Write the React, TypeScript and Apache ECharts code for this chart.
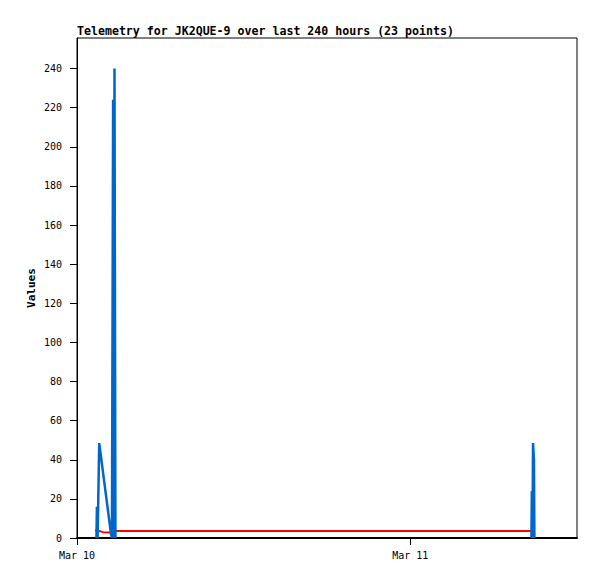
import React, { useEffect, useRef } from "react";
import * as echarts from "echarts";

// Telemetry samples (time "DD HH:MM" in March, value)
const blueTimes = [
  "10 01:24", "10 01:26", "10 01:29", "10 01:36", "10 02:27", "10 02:31",
  "10 02:36", "10 02:38", "10 02:42", "10 02:46", null,
  "11 08:43", "11 08:45", "11 08:48", "11 08:50", "11 08:54", "11 08:56",
];
const blueValues = [0, 16, 0, 48.5, 2, 0, 224, 0, 240, 0, null, 0, 24, 0, 48.5, 40, 0];

const redTimes = ["10 01:18", "10 01:39", "10 01:52", "10 02:23", "10 02:31", "11 08:43"];
const redValues = [4, 3.5, 3, 2.8, 3.6, 3.6];

const xTickValues = [0, 24];
const xTickLabels = ["Mar 10", "Mar 11"];
const yTickValues = [0, 20, 40, 60, 80, 100, 120, 140, 160, 180, 200, 220, 240];

const titleText = "Telemetry for JK2QUE-9 over last 240 hours (23 points)";

function toHours(t: string | null): number | null {
  if (t === null) return null;
  const [d, hm] = t.split(" ");
  const [h, m] = hm.split(":").map(Number);
  return (Number(d) - 10) * 24 + h + m / 60;
}

function pairs(times: (string | null)[], vals: (number | null)[]) {
  return times.map((t, i) => {
    const x = toHours(t);
    if (x === null || vals[i] === null) return [null, null];
    return [x, vals[i]];
  });
}

const mono = "'DejaVu Sans Mono', 'Liberation Mono', monospace";

export default function App() {
  const ref = useRef<HTMLDivElement>(null);
  useEffect(() => {
    if (!ref.current) return;
    const chart = echarts.init(ref.current, null, { renderer: "svg" });
    chart.setOption({
      animation: false,
      backgroundColor: "#ffffff",
      title: {
        text: titleText,
        left: 77,
        top: 25,
        padding: 0,
        textStyle: { fontFamily: mono, fontSize: 11.6, fontWeight: "bold", color: "#000" },
      },
      grid: {
        left: 77,
        right: 20,
        top: 38,
        bottom: 41,
        show: true,
        borderColor: "#000",
        borderWidth: 1,
        backgroundColor: "transparent",
      },
      xAxis: {
        type: "value",
        min: 0,
        max: 36,
        splitLine: { show: false },
        axisLine: { show: true, onZero: false, lineStyle: { color: "#000", width: 2 } },
        axisTick: { show: true, length: 7, lineStyle: { color: "#000" }, customValues: xTickValues },
        axisLabel: {
          color: "#000",
          fontFamily: mono,
          fontSize: 10,
          margin: 12,
          customValues: xTickValues,
          formatter: (v: number) => xTickLabels[xTickValues.indexOf(v)] ?? "",
        },
      },
      yAxis: {
        type: "value",
        min: 0,
        max: 255.6,
        name: "Values",
        nameLocation: "middle",
        nameGap: 40,
        nameMoveOverlap: false,
        nameTextStyle: { fontFamily: mono, fontSize: 11, fontWeight: "bold", color: "#000" },
        splitLine: { show: false },
        axisLine: { show: true, lineStyle: { color: "#000", width: 1 } },
        axisTick: { show: true, length: 7, lineStyle: { color: "#000" }, customValues: yTickValues },
        axisLabel: {
          color: "#000",
          fontFamily: mono,
          fontSize: 10,
          margin: 15,
          customValues: yTickValues,
        },
      },
      series: [
        {
          type: "line",
          data: pairs(redTimes, redValues),
          showSymbol: false,
          symbol: "none",
          lineStyle: { color: "#ff0000", width: 2 },
          z: 2,
        },
        {
          type: "line",
          data: pairs(blueTimes, blueValues),
          showSymbol: false,
          symbol: "none",
          connectNulls: false,
          lineStyle: { color: "#0066cc", width: 2.5 },
          z: 3,
        },
      ],
    });
    return () => chart.dispose();
  }, []);
  return (
    <div
      ref={ref}
      style={{ position: "fixed", left: 0, top: 0, width: 597, height: 579, background: "#fff" }}
    />
  );
}
